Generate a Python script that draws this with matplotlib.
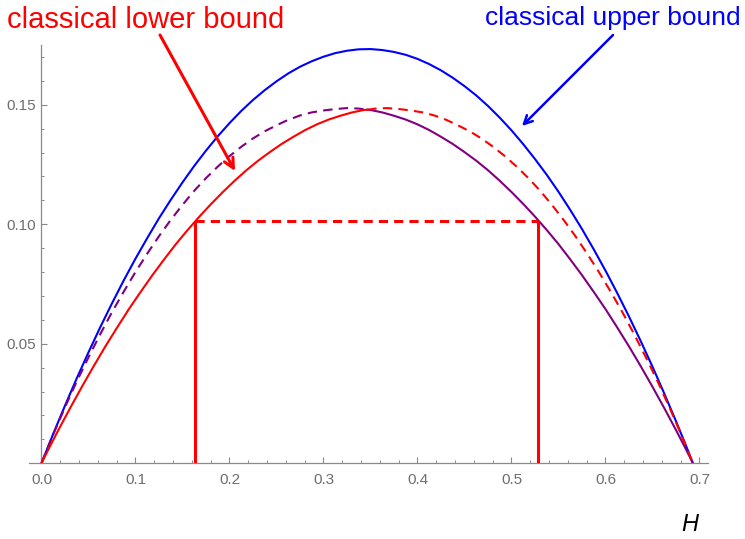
import matplotlib
matplotlib.use("Agg")
import matplotlib.pyplot as plt
from matplotlib.ticker import MultipleLocator, FormatStrFormatter

plt.rcParams["font.family"] = ["Liberation Sans", "DejaVu Sans"]

# values
# classical upper bound (blue)
upper_h = [0, 0.0125, 0.025, 0.0375, 0.05, 0.0625, 0.075, 0.0875, 0.1, 0.1125,
           0.125, 0.1375, 0.15, 0.1625, 0.175, 0.1875, 0.2, 0.2125, 0.225,
           0.2375, 0.25, 0.2625, 0.275, 0.2875, 0.3, 0.3125, 0.325, 0.3375,
           0.35, 0.3625, 0.375, 0.3875, 0.4, 0.4125, 0.425, 0.4375, 0.45,
           0.4625, 0.475, 0.4875, 0.5, 0.5125, 0.525, 0.5375, 0.55, 0.5625,
           0.575, 0.5875, 0.6, 0.6125, 0.625, 0.6375, 0.65, 0.6625, 0.675,
           0.685, 0.693]
upper_v = [0, 0.0123, 0.0241, 0.0355, 0.0464, 0.0569, 0.0669, 0.0765, 0.0856,
           0.0942, 0.1025, 0.1102, 0.1175, 0.1244, 0.1308, 0.1368, 0.1423,
           0.1474, 0.1520, 0.1561, 0.1598, 0.1631, 0.1659, 0.1682, 0.1701,
           0.1716, 0.1726, 0.1732, 0.1733, 0.1729, 0.1721, 0.1709, 0.1692,
           0.1670, 0.1644, 0.1613, 0.1578, 0.1539, 0.1495, 0.1446, 0.1393,
           0.1335, 0.1273, 0.1207, 0.1136, 0.1060, 0.0980, 0.0895, 0.0806,
           0.0712, 0.0614, 0.0511, 0.0404, 0.0292, 0.0176, 0.0080, 0]

# purple curve: dashed left of the crossing, solid right of it
purple_dash_h = [0, 0.0125, 0.025, 0.0375, 0.05, 0.0625, 0.075, 0.0875, 0.1,
                 0.1125, 0.125, 0.1375, 0.15, 0.1625, 0.175, 0.1875, 0.2,
                 0.2125, 0.225, 0.2375, 0.25, 0.2625, 0.275, 0.2875, 0.3,
                 0.3125, 0.325, 0.3375, 0.3466]
purple_dash_v = [0, 0.0121, 0.0234, 0.0342, 0.0443, 0.0540, 0.0632, 0.0718,
                 0.0800, 0.0877, 0.0950, 0.1018, 0.1081, 0.1140, 0.1193,
                 0.1241, 0.1285, 0.1324, 0.1359, 0.1389, 0.1414, 0.1437,
                 0.1455, 0.1468, 0.1476, 0.1482, 0.1486, 0.1484, 0.1479]
purple_solid_h = [0.3466, 0.35, 0.3625, 0.375, 0.3875, 0.4, 0.4125, 0.425,
                  0.4375, 0.45, 0.4625, 0.475, 0.4875, 0.5, 0.5125, 0.525,
                  0.5375, 0.55, 0.5625, 0.575, 0.5875, 0.6, 0.6125, 0.625,
                  0.6375, 0.65, 0.6625, 0.675, 0.685, 0.693]
purple_solid_v = [0.1479, 0.1478, 0.1468, 0.1454, 0.1438, 0.1418, 0.1394,
                  0.1366, 0.1336, 0.1302, 0.1266, 0.1226, 0.1182, 0.1135,
                  0.1085, 0.1032, 0.0976, 0.0917, 0.0853, 0.0787, 0.0717,
                  0.0645, 0.0568, 0.0489, 0.0406, 0.0320, 0.0231, 0.0139,
                  0.0063, 0]

# classical lower bound (red): solid on the left, dashed on the right
red_solid_h = [0, 0.008, 0.018, 0.0305, 0.043, 0.0555, 0.068, 0.0805, 0.093,
               0.1055, 0.118, 0.1305, 0.143, 0.1555, 0.168, 0.1805, 0.193,
               0.2055, 0.218, 0.2305, 0.243, 0.2555, 0.268, 0.2805, 0.293,
               0.3055, 0.318, 0.3305, 0.343, 0.3466]
red_solid_v = [0, 0.0063, 0.0139, 0.0231, 0.0320, 0.0406, 0.0489, 0.0568,
               0.0645, 0.0717, 0.0787, 0.0853, 0.0917, 0.0976, 0.1032, 0.1085,
               0.1135, 0.1182, 0.1226, 0.1266, 0.1302, 0.1336, 0.1366, 0.1394,
               0.1418, 0.1438, 0.1454, 0.1468, 0.1478, 0.1479]
red_dash_h = [0.3466, 0.3555, 0.368, 0.3805, 0.393, 0.4055, 0.418, 0.4305,
              0.443, 0.4555, 0.468, 0.4805, 0.493, 0.5055, 0.518, 0.5305,
              0.543, 0.5555, 0.568, 0.5805, 0.593, 0.6055, 0.618, 0.6305,
              0.643, 0.6555, 0.668, 0.6805, 0.693]
red_dash_v = [0.1479, 0.1484, 0.1486, 0.1482, 0.1476, 0.1468, 0.1455, 0.1437,
              0.1414, 0.1389, 0.1359, 0.1324, 0.1285, 0.1241, 0.1193, 0.1140,
              0.1081, 0.1018, 0.0950, 0.0877, 0.0800, 0.0718, 0.0632, 0.0540,
              0.0443, 0.0342, 0.0234, 0.0121, 0]

# the box marking the level of the lower bound
box_h = [0.1638, 0.5287]
box_level = 0.1014

fig = plt.figure(figsize=(7.45, 5.39), dpi=100)
ax = fig.add_axes([0.0384, 0.1406, 0.9126, 0.7759])

ax.plot(upper_h, upper_v, color="#0000ff", lw=1.5, zorder=3)
ax.plot(purple_dash_h, purple_dash_v, color="#800080", lw=1.5,
        dashes=(4.5, 3), zorder=3)
ax.plot(purple_solid_h, purple_solid_v, color="#800080", lw=1.5, zorder=3)
ax.plot(red_solid_h, red_solid_v, color="#ff0000", lw=1.5, zorder=3)
ax.plot(red_dash_h, red_dash_v, color="#ff0000", lw=1.5, dashes=(4.5, 3),
        zorder=3)

# vertical markers and the dashed level line
ax.vlines(box_h, 0, box_level, color="#ff0000", lw=2.2, zorder=4)
ax.hlines(box_level, box_h[0], box_h[1], color="#ff0000", lw=2.2,
          linestyles=(0, (3, 2)), zorder=4)

ax.set_xlim(-0.0137, 0.7096)
ax.set_ylim(0, 0.175)

for side in ["top", "right"]:
    ax.spines[side].set_visible(False)
ax.spines["left"].set_position(("data", 0))
ax.spines["bottom"].set_position(("data", 0))
for side in ["left", "bottom"]:
    ax.spines[side].set_color("#8a8a8a")
    ax.spines[side].set_linewidth(0.9)

ax.xaxis.set_major_locator(MultipleLocator(0.1))
ax.xaxis.set_minor_locator(MultipleLocator(0.02))
ax.xaxis.set_major_formatter(FormatStrFormatter("%.1f"))
ax.set_yticks([0.05, 0.10, 0.15])
ax.yaxis.set_minor_locator(MultipleLocator(0.01))
ax.yaxis.set_major_formatter(FormatStrFormatter("%.2f"))
ax.tick_params(which="both", direction="in", color="#8a8a8a",
               labelcolor="#6e6e6e", labelsize=11)
ax.tick_params(which="major", length=4, width=0.8, pad=7)
ax.tick_params(which="minor", length=2.3, width=0.7)
ax.tick_params(axis="y", which="major", pad=4)

fig.text(0.926, 0.026, "H", fontsize=17, style="italic", color="black",
         ha="center", va="center")

# labels and arrows, placed in figure pixels
fig.text(7 / 745, 1 - 20 / 539, "classical lower bound", color="#ff0000",
         fontsize=21, ha="left", va="center")
fig.text(741 / 745, 1 - 18 / 539, "classical upper bound", color="#0000ff",
         fontsize=19, ha="right", va="center")
ax.annotate("", xy=(235, 539 - 171), xycoords="figure pixels",
            xytext=(160, 539 - 35), textcoords="figure pixels",
            arrowprops=dict(arrowstyle="->,head_length=0.7,head_width=0.35",
                            color="#ff0000", lw=2.2, shrinkA=0, shrinkB=0))
ax.annotate("", xy=(522, 539 - 126), xycoords="figure pixels",
            xytext=(613, 539 - 35), textcoords="figure pixels",
            arrowprops=dict(arrowstyle="->,head_length=0.6,head_width=0.3",
                            color="#0000ff", lw=1.8, shrinkA=0, shrinkB=0))

fig.savefig("out.png", dpi=100)
